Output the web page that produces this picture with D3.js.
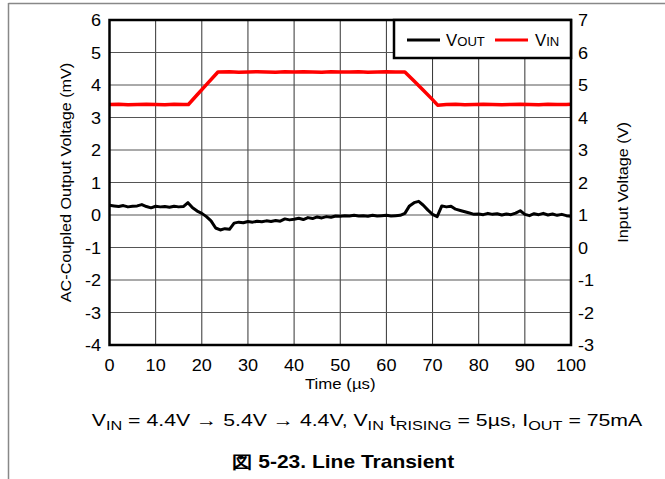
<!DOCTYPE html>
<html><head><meta charset="utf-8">
<script src="https://cdn.jsdelivr.net/npm/d3@7"></script>
<style>body{margin:0;background:#fff}svg{display:block;font-family:"Liberation Sans",Arial,sans-serif}</style>
</head><body><svg id="c" width="665" height="479"></svg>
<script>
const xTicks = [0,10,20,30,40,50,60,70,80,90,100];
const yLeftTicks = [-4,-3,-2,-1,0,1,2,3,4,5,6];
const yRightTicks = [-3,-2,-1,0,1,2,3,4,5,6,7];
const timeUs = d3.range(0,101);
const vout = [0.30,0.28,0.26,0.29,0.25,0.27,0.28,0.32,0.26,0.22,0.27,0.25,0.26,0.24,0.27,0.25,0.26,0.38,0.22,0.12,
0.05,-0.05,-0.18,-0.40,-0.46,-0.42,-0.44,-0.25,-0.22,-0.24,-0.20,-0.22,-0.19,-0.21,-0.18,-0.20,-0.17,-0.19,-0.12,-0.15,
-0.13,-0.10,-0.14,-0.08,-0.11,-0.06,-0.09,-0.05,-0.07,-0.03,-0.04,-0.02,-0.03,-0.01,-0.03,-0.02,-0.04,-0.01,-0.03,-0.02,
-0.01,-0.03,-0.02,-0.01,0.05,0.28,0.38,0.42,0.30,0.15,0.02,-0.05,0.28,0.25,0.27,0.18,0.14,0.10,0.06,0.02,
0.03,0.01,0.05,0.02,0.04,0.00,0.03,0.01,0.06,0.13,0.02,-0.02,0.04,0.01,0.05,0.00,0.03,-0.01,0.02,-0.02,-0.04];
const vinTime = [0,2,4,6,8,10,12,14,16,17.1,19,21,23.5,26,28,30,32,34,36,38,40,42,44,46,48,50,52,54,56,58,60,62,64,66,68,70,71.1,73,75,77,79,81,83,85,87,89,91,93,95,97,99,100];
const vin = [4.40,4.41,4.39,4.40,4.41,4.40,4.39,4.41,4.40,4.40,4.70,5.01,5.40,5.41,5.39,5.40,5.41,5.40,5.39,5.41,5.40,5.41,5.40,5.39,5.41,5.40,5.40,5.41,5.39,5.40,5.41,5.40,5.40,5.12,4.84,4.55,4.38,4.40,4.41,4.39,4.40,4.41,4.40,4.39,4.40,4.41,4.40,4.39,4.41,4.40,4.40,4.41];
const captionParts = [["V",0],["IN",1],[" = 4.4V \u2192 5.4V \u2192 4.4V, V",0],["IN",1],[" t",0],["RISING",1],[" = 5\u00b5s, I",0],["OUT",1],[" = 75mA",0]];

const svg = d3.select("#c");
const L=109.5, R=571, T=20, B=345;
const x = d3.scaleLinear().domain([0,100]).range([L,R]);
const yL = d3.scaleLinear().domain([-4,6]).range([B,T]);
const yR = d3.scaleLinear().domain([-3,7]).range([B,T]);

function txt(px, py, str, size, sx, anchor, rot){
  return svg.append("text")
    .attr("transform", `translate(${px},${py})` + (rot? ` rotate(${rot})`:"") + ` scale(${sx},1)`)
    .attr("text-anchor", anchor).attr("font-size", size).text(str);
}

// frame
svg.append("line").attr("x1",8.5).attr("x2",665).attr("y1",3.5).attr("y2",3.5).attr("stroke","#888").attr("stroke-width",1.5);
svg.append("line").attr("x1",8.5).attr("x2",8.5).attr("y1",3).attr("y2",479).attr("stroke","#888").attr("stroke-width",1.5);

// grid
const g = svg.append("g");
g.selectAll(".vg").data(xTicks.slice(1,-1)).join("line").attr("x1",d=>x(d)).attr("x2",d=>x(d)).attr("y1",T).attr("y2",B).attr("stroke","#333").attr("stroke-width",1);
g.selectAll(".hg").data(yLeftTicks.slice(1,-1)).join("line").attr("y1",d=>yL(d)).attr("y2",d=>yL(d)).attr("x1",L).attr("x2",R).attr("stroke","#555").attr("stroke-width",1);

// lines
const lineOut = d3.line().x((d,i)=>x(timeUs[i])).y(d=>yL(d));
svg.append("path").attr("d",lineOut(vout)).attr("fill","none").attr("stroke","#000").attr("stroke-width",3).attr("stroke-linejoin","round");
const lineIn = d3.line().x((d,i)=>x(vinTime[i])).y(d=>yR(d));
svg.append("path").attr("d",lineIn(vin)).attr("fill","none").attr("stroke","#ff0000").attr("stroke-width",3.5).attr("stroke-linejoin","round");

// plot border
svg.append("rect").attr("x",L).attr("y",T).attr("width",R-L).attr("height",B-T).attr("fill","none").attr("stroke","#000").attr("stroke-width",2.5);

// tick labels
const fs = 16, sxT = 1.13;
xTicks.forEach(d=>txt(x(d),371,d,fs,sxT,"middle"));
yLeftTicks.forEach(d=>txt(101,yL(d)+6,d,fs,sxT,"end"));
yRightTicks.forEach(d=>txt(578,yR(d)+6,d,fs,sxT,"start"));
// axis titles
txt(x(50),389,"Time (\u00b5s)",15,1.12,"middle");
txt(71,(T+B)/2,"AC-Coupled Output Voltage (mV)",15,1.08,"middle",-90);
txt(628,(T+B)/2,"Input Voltage (V)",15,1.08,"middle",-90);

// legend
svg.append("rect").attr("x",394).attr("y",T).attr("width",R-394).attr("height",38).attr("fill","#fff").attr("stroke","#000").attr("stroke-width",2.5);
svg.append("line").attr("x1",407).attr("x2",440).attr("y1",40).attr("y2",40).attr("stroke","#000").attr("stroke-width",3);
const t1 = txt(446,46,"",16,1.05,"start");
t1.append("tspan").text("V"); t1.append("tspan").attr("font-size",12.5).text("OUT");
svg.append("line").attr("x1",495).attr("x2",528).attr("y1",40).attr("y2",40).attr("stroke","#ff0000").attr("stroke-width",3);
const t2 = txt(535,46,"",16,1.05,"start");
t2.append("tspan").text("V"); t2.append("tspan").attr("font-size",12.5).text("IN");

// caption
const cap = txt(367,426,"",17,1.25,"middle");
let prevSub = false;
captionParts.forEach(([s,sub])=>{
  const ts = cap.append("tspan").text(s);
  if (sub) ts.attr("font-size",13);
  ts.attr("dy", sub && !prevSub ? 4 : (!sub && prevSub ? -4 : 0));
  prevSub = !!sub;
});
txt(343,468,"\u56f3 5-23. Line Transient",17.5,1.2,"middle").attr("font-weight","bold");
</script></body></html>
